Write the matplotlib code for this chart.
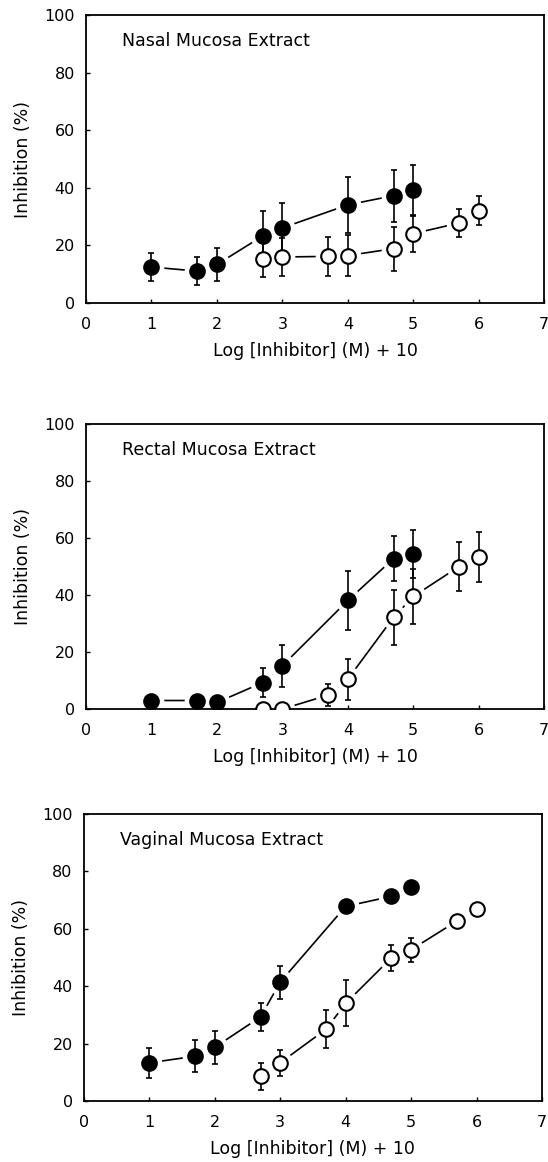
import matplotlib
matplotlib.use("Agg")
import matplotlib.pyplot as plt

plt.rcParams['font.family'] = ['DejaVu Sans']

titles = ["Nasal Mucosa Extract", "Rectal Mucosa Extract", "Vaginal Mucosa Extract"]

filled_x = [1, 1.7, 2, 2.7, 3, 4, 4.7, 5]
open_x = [2.7, 3, 3.7, 4, 4.7, 5, 5.7, 6]

nasal_filled = [12.5, 11.1, 13.4, 23.3, 26.1, 34.1, 37.3, 39.2]
nasal_filled_err = [5.0, 5.0, 5.8, 8.5, 8.6, 9.8, 9.0, 8.8]
nasal_open = [15.2, 16.0, 16.2, 16.5, 18.9, 24.1, 27.8, 32.1]
nasal_open_err = [6.3, 6.6, 6.8, 7.0, 7.6, 6.4, 5.0, 5.1]

rectal_filled = [3.0, 3.0, 2.3, 9.3, 15.2, 38.1, 52.8, 54.4]
rectal_filled_err = [0, 0, 0, 5.0, 7.4, 10.4, 8.0, 8.5]
rectal_open = [0.0, 0.0, 4.9, 10.5, 32.2, 39.5, 50.0, 53.3]
rectal_open_err = [0, 0, 3.9, 7.2, 9.6, 9.7, 8.7, 8.7]

vaginal_filled = [13.3, 15.6, 18.7, 29.3, 41.4, 67.8, 71.3, 74.5]
vaginal_filled_err = [5.3, 5.6, 5.7, 4.8, 5.7, 0, 0, 0]
vaginal_open = [8.7, 13.3, 25.0, 34.0, 49.9, 52.7, 62.7, 66.9]
vaginal_open_err = [4.7, 4.5, 6.6, 8.0, 4.6, 4.2, 0, 0]

panels = [
    (nasal_filled, nasal_filled_err, nasal_open, nasal_open_err),
    (rectal_filled, rectal_filled_err, rectal_open, rectal_open_err),
    (vaginal_filled, vaginal_filled_err, vaginal_open, vaginal_open_err),
]

xticks = [0, 1, 2, 3, 4, 5, 6, 7]
yticks = [0, 20, 40, 60, 80, 100]

fig = plt.figure(figsize=(5.48, 11.62), dpi=100)
rects = [
    [0.157, 0.7392, 0.836, 0.2478],
    [0.157, 0.3898, 0.836, 0.2453],
    [0.153, 0.0525, 0.836, 0.2470],
]

ms = 10.5
for rect, title, (fy, fe, oy, oe) in zip(rects, titles, panels):
    ax = fig.add_axes(rect)
    # connecting lines
    ax.plot(filled_x, fy, '-', color='black', lw=1.2, zorder=1)
    ax.plot(open_x, oy, '-', color='black', lw=1.2, zorder=1)
    # white halos creating gaps between lines and markers
    ax.plot(filled_x, fy, 'o', ms=ms + 7, color='white', mec='white', zorder=2)
    ax.plot(open_x, oy, 'o', ms=ms + 7, color='white', mec='white', zorder=2)
    # error bars
    ax.errorbar(filled_x, fy, yerr=fe, fmt='none', ecolor='black',
                elinewidth=1.2, capsize=2.2, capthick=1.2, zorder=3)
    ax.errorbar(open_x, oy, yerr=oe, fmt='none', ecolor='black',
                elinewidth=1.2, capsize=2.2, capthick=1.2, zorder=3)
    # markers
    ax.plot(open_x, oy, 'o', ms=ms, mfc='white', mec='black', mew=1.5, zorder=4)
    ax.plot(filled_x, fy, 'o', ms=ms, mfc='black', mec='black', mew=1.5, zorder=5)

    ax.set_xlim(0, 7)
    ax.set_ylim(0, 100)
    ax.set_xticks(xticks)
    ax.set_yticks(yticks)
    ax.tick_params(direction='in', length=3, width=1, labelsize=11.5)
    ax.tick_params(axis='x', pad=10)
    ax.tick_params(axis='y', pad=8)
    for s in ax.spines.values():
        s.set_linewidth(1.3)
    ax.set_ylabel("Inhibition (%)", fontsize=12.5, labelpad=9)
    ax.set_xlabel("Log [Inhibitor] (M) + 10", fontsize=12.5, labelpad=7)
    ax.text(0.078, 0.91, title, transform=ax.transAxes, fontsize=12.5,
            va='center', ha='left')

fig.savefig("out.png", dpi=100)
